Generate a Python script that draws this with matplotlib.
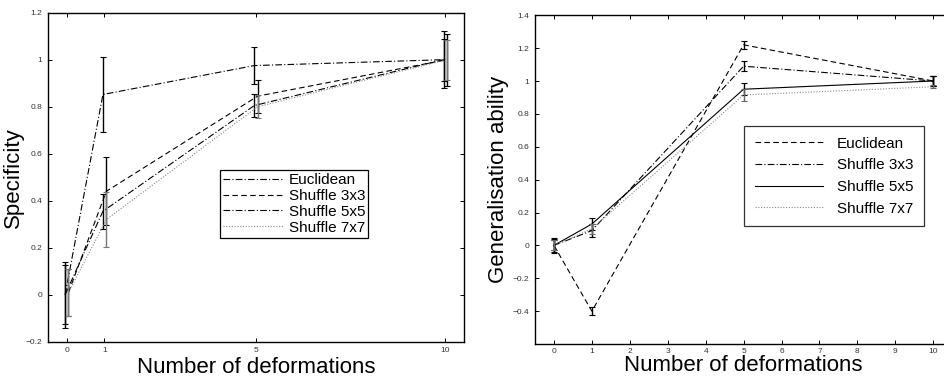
import matplotlib
matplotlib.use("Agg")
import matplotlib.pyplot as plt
import numpy as np

plt.rcParams['font.family'] = ['Liberation Sans', 'DejaVu Sans']

# ---------------- data: left (Specificity) ----------------
x_left = [0, 1, 5, 10]
left_labels = ["Euclidean", "Shuffle 3x3", "Shuffle 5x5", "Shuffle 7x7"]
spec_euclid = [0.00, 0.852, 0.975, 1.00]
spec_euclid_err = [0.14, 0.16, 0.08, 0.12]
spec_s3 = [0.01, 0.44, 0.845, 1.00]
spec_s3_err = [0.10, 0.145, 0.07, 0.11]
spec_s5 = [0.00, 0.355, 0.805, 1.00]
spec_s5_err = [0.125, 0.075, 0.05, 0.09]
spec_s7 = [0.01, 0.32, 0.80, 1.00]
spec_s7_err = [0.10, 0.115, 0.05, 0.085]
left_xticks = [0, 1, 5, 10]
left_yticks = [-0.2, 0, 0.2, 0.4, 0.6, 0.8, 1, 1.2]

# ---------------- data: right (Generalisation ability) ----------------
x_right = [0, 1, 5, 10]
right_labels = ["Euclidean", "Shuffle 3x3", "Shuffle 5x5", "Shuffle 7x7"]
gen_euclid = [0.00, -0.40, 1.22, 1.00]
gen_euclid_err = [0.03, 0.025, 0.025, 0.03]
gen_s3 = [0.00, 0.09, 1.09, 1.00]
gen_s3_err = [0.04, 0.04, 0.03, 0.03]
gen_s5 = [0.00, 0.13, 0.95, 1.00]
gen_s5_err = [0.045, 0.035, 0.035, 0.03]
gen_s7 = [0.00, 0.10, 0.915, 0.965]
gen_s7_err = [0.03, 0.03, 0.035, 0.01]
right_xticks = list(range(0, 11))
right_yticks = [-0.4, -0.2, 0, 0.2, 0.4, 0.6, 0.8, 1, 1.2, 1.4]

fig = plt.figure(figsize=(9.44, 3.81), dpi=100)

def style_axes(ax):
    ax.tick_params(direction='in', top=True, right=True, length=3, width=0.7,
                   labelsize=6, colors='black', labelcolor='#333333', pad=4)
    for s in ax.spines.values():
        s.set_linewidth(1.0)

def fmt(v):
    if v < 0:
        return '\u2212' + f'{-v:g}'
    return f'{v:g}'

# ---------------- left panel ----------------
axL = fig.add_axes([0.0505, 0.1031, 0.4410, 0.8636])
styles_left = [
    dict(ls=(0, (6, 2, 1, 2)), color='black', off=-0.04, ecolor='black'),
    dict(ls=(0, (5, 3)), color='black', off=0.05, ecolor='black'),
    dict(ls=(0, (6, 2, 1, 2)), color='black', off=-0.04, ecolor='black'),
    dict(ls=(0, (1, 1.5)), color='#888888', off=0.05, ecolor='#777777'),
]
series_left = [(spec_euclid, spec_euclid_err), (spec_s3, spec_s3_err),
               (spec_s5, spec_s5_err), (spec_s7, spec_s7_err)]
handles = []
for (y, e), st, lab in zip(series_left, styles_left, left_labels):
    xs = np.array(x_left) + st['off']
    ln, = axL.plot(xs, y, linestyle=st['ls'], color=st['color'], lw=0.8, label=lab)
    axL.errorbar(xs, y, yerr=e, fmt='none', ecolor=st['ecolor'], elinewidth=1.0,
                 capsize=2.0, capthick=0.8)
    handles.append(ln)
axL.set_xlim(-0.5, 10.5)
axL.set_ylim(-0.2, 1.2)
axL.set_xticks(left_xticks)
axL.set_yticks(left_yticks)
axL.set_yticklabels([fmt(v) for v in left_yticks])
style_axes(axL)
axL.set_xlabel("Number of deformations", fontsize=16, labelpad=2)
axL.set_ylabel("Specificity", fontsize=16, labelpad=1)
legL = axL.legend(handles=handles, loc='upper left', bbox_to_anchor=(0.414, 0.522),
                  fontsize=11, handlelength=4.0, handletextpad=0.3, borderpad=0.2,
                  labelspacing=0.12, fancybox=False, framealpha=1, borderaxespad=0)
legL.get_frame().set_edgecolor('black')
legL.get_frame().set_linewidth(0.9)

# ---------------- right panel ----------------
axR = fig.add_axes([0.5667, 0.097, 0.4420, 0.863])
styles_right = [
    dict(ls=(0, (5, 3)), color='black', ecolor='black'),
    dict(ls=(0, (6, 2, 1, 2)), color='black', ecolor='black'),
    dict(ls='-', color='black', ecolor='black'),
    dict(ls=(0, (1, 1.5)), color='#888888', ecolor='#666666'),
]
series_right = [(gen_euclid, gen_euclid_err), (gen_s3, gen_s3_err),
                (gen_s5, gen_s5_err), (gen_s7, gen_s7_err)]
handles = []
for (y, e), st, lab in zip(series_right, styles_right, right_labels):
    ln, = axR.plot(x_right, y, linestyle=st['ls'], color=st['color'], lw=0.8, label=lab)
    axR.errorbar(x_right, y, yerr=e, fmt='none', ecolor=st['ecolor'], elinewidth=1.0,
                 capsize=2.0, capthick=0.8)
    handles.append(ln)
axR.set_xlim(-0.5, 10.5)
axR.set_ylim(-0.6, 1.4)
axR.set_xticks(right_xticks)
axR.set_yticks(right_yticks)
axR.set_yticklabels([fmt(v) for v in right_yticks])
style_axes(axR)
axR.tick_params(axis='x', pad=3)
axR.set_xlabel("Number of deformations", fontsize=16, labelpad=0)
axR.set_ylabel("Generalisation ability", fontsize=16, labelpad=3)
legR = axR.legend(handles=handles, loc='upper left', bbox_to_anchor=(0.501, 0.663),
                  fontsize=11, handlelength=4.5, handletextpad=0.9, borderpad=0.7,
                  labelspacing=0.5, fancybox=False, framealpha=1, borderaxespad=0)
legR.get_frame().set_edgecolor('#333333')
legR.get_frame().set_linewidth(0.9)

fig.savefig("out.png", dpi=100)
